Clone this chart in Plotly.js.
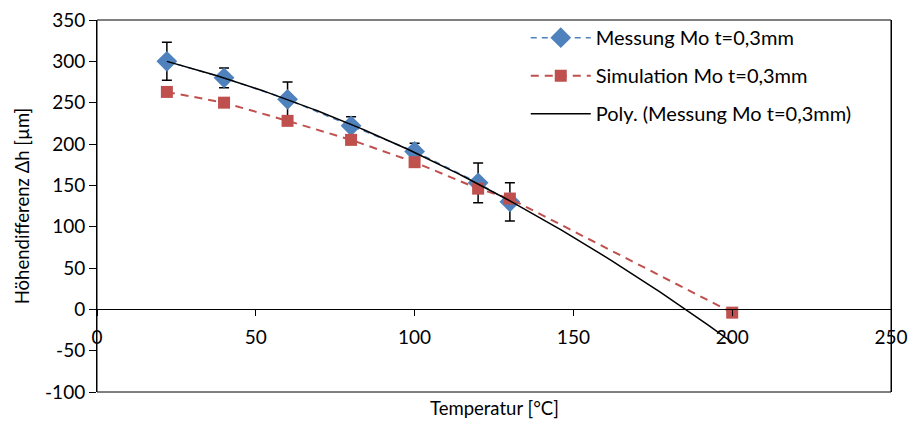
<!DOCTYPE html>
<html>
<head>
<meta charset="utf-8">
<script src="https://cdn.plot.ly/plotly-3.0.1.min.js"></script>
<style>
  html, body { margin: 0; padding: 0; background: #ffffff; }
  #chart { width: 910px; height: 421px; }
</style>
</head>
<body>
<div id="chart"></div>
<script>
// Temperatur in °C
const temperatures = [22, 40, 60, 80, 100, 120, 130];
// Gemessene Höhendifferenz in µm mit Standardabweichung
const messung = [300, 280, 254, 222, 191, 153, 130];
const messungFehler = [23, 12, 21, 11, 10, 24, 23];
// Simulierte Höhendifferenz in µm
const simTemperatures = [22, 40, 60, 80, 100, 120, 130, 200];
const simulation = [263, 250, 228, 205, 178, 146, 134, -4];
// Achsenbeschriftung
const xTicks = [0, 50, 100, 150, 200, 250];
const yTicks = [-100, -50, 0, 50, 100, 150, 200, 250, 300, 350];

// Polynom 2. Ordnung (kleinste Quadrate) durch die Messwerte
function polyFit2(xs, ys) {
  const S = [0, 0, 0, 0, 0], T = [0, 0, 0];
  xs.forEach((x, i) => {
    let p = 1;
    for (let k = 0; k < 5; k++) { S[k] += p; if (k < 3) T[k] += p * ys[i]; p *= x; }
  });
  const A = [[S[0], S[1], S[2], T[0]], [S[1], S[2], S[3], T[1]], [S[2], S[3], S[4], T[2]]];
  for (let c = 0; c < 3; c++) {
    for (let r = c + 1; r < 3; r++) {
      const f = A[r][c] / A[c][c];
      for (let k = c; k < 4; k++) A[r][k] -= f * A[c][k];
    }
  }
  const b = [0, 0, 0];
  for (let r = 2; r >= 0; r--) {
    let s = A[r][3];
    for (let k = r + 1; k < 3; k++) s -= A[r][k] * b[k];
    b[r] = s / A[r][r];
  }
  return b;
}
const coef = polyFit2(temperatures, messung);
const trendX = [];
for (let t = temperatures[0]; t <= simTemperatures[simTemperatures.length - 1]; t += 1) trendX.push(t);
const trendY = trendX.map(t => coef[0] + coef[1] * t + coef[2] * t * t);

const FONT = 'Lato, "Open Sans", sans-serif';

const traces = [
  {
    x: temperatures, y: messung, name: 'Messung Mo t=0,3mm',
    mode: 'lines+markers', legendgroup: 'a',
    line: { color: '#4F81BD', width: 1.5, dash: '6px,5px' },
    marker: { symbol: 'diamond', size: 16, color: '#4F81BD' },
    error_y: { type: 'data', array: messungFehler, visible: true, color: '#000000', thickness: 1.5, width: 5 }
  },
  {
    x: simTemperatures, y: simulation, name: 'Simulation Mo t=0,3mm',
    mode: 'lines+markers', legendgroup: 'b',
    line: { color: '#C0504D', width: 2, dash: '8px,6px' },
    marker: { symbol: 'square', size: 12, color: '#C0504D' }
  },
  {
    x: trendX, y: trendY, name: 'Poly. (Messung Mo t=0,3mm)',
    mode: 'lines', legendgroup: 'c',
    line: { color: '#000000', width: 1.5 }
  }
];

const layout = {
  width: 910, height: 421,
  margin: { l: 97, r: 19, t: 20, b: 29 },
  paper_bgcolor: '#ffffff', plot_bgcolor: '#ffffff',
  font: { family: FONT, size: 19, color: '#000000' },
  showlegend: true,
  legend: {
    x: 0.54, y: 1.005, xanchor: 'left', yanchor: 'top',
    bgcolor: 'rgba(0,0,0,0)', font: { family: FONT, size: 20 },
    tracegroupgap: 9, itemwidth: 60
  },
  xaxis: {
    range: [0, 250], tickvals: xTicks, ticktext: xTicks.map(String),
    anchor: 'free', position: 100 / 450,
    showline: true, linecolor: '#000000', linewidth: 1,
    ticks: 'outside', ticklen: 6, tickcolor: '#000000', tickwidth: 1,
    ticklabelstandoff: 5,
    showgrid: false, zeroline: false,
    tickfont: { family: FONT, size: 19 }
  },
  yaxis: {
    range: [-100, 350], tickvals: yTicks, ticktext: yTicks.map(String),
    showline: true, linecolor: '#000000', linewidth: 1, mirror: true,
    ticks: 'outside', ticklen: 7, tickcolor: '#000000', tickwidth: 1,
    showgrid: false, zeroline: false,
    tickfont: { family: FONT, size: 19 },
    title: { text: 'Höhendifferenz Δh [µm]', font: { family: FONT, size: 18.5 }, standoff: 10 }
  },
  shapes: [
    { type: 'rect', xref: 'paper', yref: 'paper', x0: 0, x1: 1, y0: 0, y1: 1,
      line: { color: '#000000', width: 1 }, layer: 'below' }
  ],
  annotations: [
    { text: 'Temperatur [°C]', xref: 'paper', yref: 'paper', x: 0.5, y: 0,
      xanchor: 'center', yanchor: 'top', yshift: -3, showarrow: false,
      font: { family: FONT, size: 18.5 } }
  ]
};

Plotly.newPlot('chart', traces, layout, { displayModeBar: false, staticPlot: true });
</script>
</body>
</html>
